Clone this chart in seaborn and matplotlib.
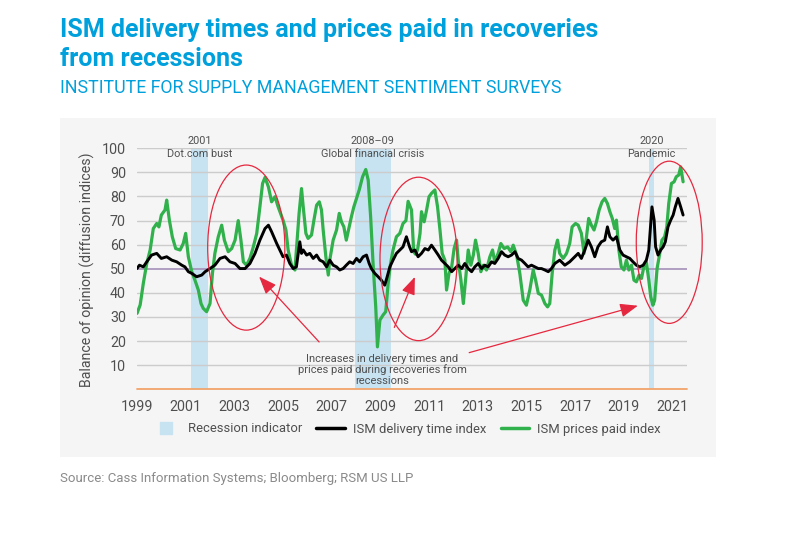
import numpy as np
import pandas as pd
import matplotlib
matplotlib.use("Agg")
import matplotlib.pyplot as plt
from matplotlib.patches import Ellipse, Rectangle
from matplotlib.lines import Line2D
import seaborn as sns

# --- data (decimal years, index values) ---
prices_year = [1999.0, 1999.13, 1999.26, 1999.4, 1999.54, 1999.67, 1999.81, 1999.9, 2000.0, 2000.15,
               2000.22, 2000.33, 2000.45, 2000.59, 2000.77, 2000.9, 2001.0, 2001.11, 2001.25, 2001.38,
               2001.52, 2001.63, 2001.72, 2001.86, 2002.0, 2002.1, 2002.2, 2002.34, 2002.48, 2002.59,
               2002.75, 2002.89, 2003.03, 2003.16, 2003.27, 2003.37, 2003.5, 2003.64, 2003.78, 2003.92,
               2004.05, 2004.16, 2004.26, 2004.4, 2004.53, 2004.67, 2004.8, 2005.0, 2005.12, 2005.21,
               2005.35, 2005.49, 2005.55, 2005.66, 2005.76, 2005.83, 2005.94, 2006.03, 2006.17, 2006.27,
               2006.38, 2006.49, 2006.58, 2006.65, 2006.76, 2006.86, 2006.92, 2007.06, 2007.2, 2007.31,
               2007.4, 2007.5, 2007.6, 2007.72, 2007.81, 2007.91, 2008.02, 2008.13, 2008.27, 2008.4,
               2008.5, 2008.6, 2008.7, 2008.81, 2008.88, 2008.98, 2009.11, 2009.22, 2009.32, 2009.42,
               2009.52, 2009.66, 2009.8, 2009.93, 2010.05, 2010.14, 2010.28, 2010.37, 2010.45, 2010.53,
               2010.63, 2010.69, 2010.8, 2010.9, 2011.0, 2011.1, 2011.24, 2011.35, 2011.45, 2011.54,
               2011.65, 2011.72, 2011.82, 2011.93, 2012.03, 2012.13, 2012.2, 2012.31, 2012.41, 2012.5,
               2012.61, 2012.72, 2012.82, 2012.91, 2013.02, 2013.13, 2013.23, 2013.36, 2013.5, 2013.61,
               2013.7, 2013.84, 2013.95, 2014.09, 2014.23, 2014.36, 2014.46, 2014.6, 2014.73, 2014.87,
               2015.0, 2015.14, 2015.28, 2015.38, 2015.49, 2015.62, 2015.76, 2015.87, 2015.96, 2016.06,
               2016.17, 2016.28, 2016.37, 2016.51, 2016.65, 2016.78, 2016.88, 2017.02, 2017.13, 2017.26,
               2017.37, 2017.47, 2017.56, 2017.67, 2017.78, 2017.88, 2017.99, 2018.11, 2018.22, 2018.33,
               2018.43, 2018.53, 2018.63, 2018.7, 2018.8, 2018.9, 2019.01, 2019.11, 2019.21, 2019.32,
               2019.42, 2019.52, 2019.63, 2019.73, 2019.84, 2019.93, 2020.03, 2020.11, 2020.2, 2020.27,
               2020.37, 2020.48, 2020.57, 2020.68, 2020.77, 2020.85, 2020.96, 2021.07, 2021.16, 2021.26,
               2021.34, 2021.44]
prices_paid = [31.5, 35, 44, 52.2, 57.8, 66.7, 68.8, 67.4, 72.3, 74.4,
               78.5, 70.2, 63.3, 58.4, 57.8, 60.5, 64.7, 55, 48.8, 45.3,
               41.2, 35.6, 33.6, 32.2, 35.6, 48.1, 56.4, 63.3, 68.1, 61.9,
               57.1, 58.4, 61.9, 70, 61.9, 52.9, 51.5, 54.3, 59.1, 64.7,
               75.7, 85.4, 87.9, 84, 77.8, 79.9, 75.7, 70.2, 66.1, 57.8,
               51.5, 49.5, 57.8, 73, 83.3, 75.7, 64.7, 62.6, 64, 70.2,
               76.4, 77.8, 74.4, 66.1, 55, 47.4, 53.6, 61.9, 66.1, 73,
               69.5, 67.4, 61.9, 67.4, 71.6, 75.7, 79.2, 82.7, 88.2, 91.2,
               86.8, 71.6, 52.2, 34.2, 17.6, 28.7, 30.8, 32.2, 43.9, 52.2,
               57.8, 63.3, 64.7, 68.8, 70, 78, 74.4, 57, 56, 58,
               64.7, 73.7, 69.5, 74.4, 79.9, 81.3, 82.7, 75.7, 66.1, 56.4,
               53.6, 41.2, 48.1, 50.8, 58.4, 61.9, 53.6, 45.3, 35.6, 45.3,
               57.8, 51.5, 55.7, 61.9, 56.4, 48.8, 51.5, 49.5, 55, 57.8,
               52.9, 56.4, 60.5, 58.4, 59.1, 57.1, 59.8, 55.7, 48.1, 37,
               34.9, 41.2, 49.5, 45.3, 39.8, 39.1, 35.6, 34.2, 35.6, 48.1,
               57.8, 61.9, 56.4, 54.3, 56.4, 60.5, 67.4, 68.8, 68.1, 64.7,
               56.4, 63.3, 70.9, 68.1, 66.1, 69.5, 74.4, 77.8, 79.2, 77.1,
               73.7, 70.9, 66.7, 70.2, 57.8, 50.8, 49.5, 53.6, 49.5, 51.5,
               45.3, 44.6, 47.4, 46, 51.5, 52.9, 45.3, 38.4, 34.9, 37,
               50.1, 56.4, 61.9, 63.3, 67.4, 77.1, 85.4, 86.1, 88.2, 88.9,
               92.3, 86.1]

delivery_year = [1999.0, 1999.1, 1999.26, 1999.4, 1999.6, 1999.81, 2000.0, 2000.22, 2000.43, 2000.63,
                 2000.84, 2000.97, 2001.11, 2001.25, 2001.45, 2001.66, 2001.8, 2002.0, 2002.2, 2002.41,
                 2002.62, 2002.82, 2003.03, 2003.23, 2003.44, 2003.64, 2003.85, 2004.05, 2004.26, 2004.4,
                 2004.53, 2004.74, 2004.87, 2005.0, 2005.14, 2005.28, 2005.42, 2005.55, 2005.69, 2005.76,
                 2005.83, 2005.97, 2006.1, 2006.24, 2006.38, 2006.51, 2006.65, 2006.79, 2006.92, 2007.06,
                 2007.2, 2007.33, 2007.47, 2007.6, 2007.74, 2007.88, 2008.02, 2008.15, 2008.29, 2008.43,
                 2008.54, 2008.63, 2008.77, 2008.91, 2009.04, 2009.18, 2009.28, 2009.39, 2009.52, 2009.66,
                 2009.8, 2009.93, 2010.07, 2010.2, 2010.28, 2010.42, 2010.55, 2010.69, 2010.83, 2010.97,
                 2011.1, 2011.24, 2011.38, 2011.51, 2011.65, 2011.79, 2011.93, 2012.06, 2012.2, 2012.34,
                 2012.47, 2012.61, 2012.75, 2012.88, 2013.02, 2013.16, 2013.29, 2013.43, 2013.57, 2013.7,
                 2013.84, 2013.98, 2014.11, 2014.25, 2014.39, 2014.53, 2014.66, 2014.8, 2014.94, 2015.07,
                 2015.21, 2015.35, 2015.49, 2015.62, 2015.76, 2015.9, 2016.03, 2016.17, 2016.37, 2016.58,
                 2016.78, 2016.99, 2017.13, 2017.26, 2017.4, 2017.54, 2017.67, 2017.81, 2017.94, 2018.08,
                 2018.22, 2018.33, 2018.43, 2018.56, 2018.7, 2018.84, 2018.97, 2019.11, 2019.25, 2019.38,
                 2019.52, 2019.66, 2019.8, 2019.93, 2020.03, 2020.11, 2020.16, 2020.25, 2020.31, 2020.41,
                 2020.52, 2020.62, 2020.71, 2020.82, 2020.93, 2021.03, 2021.12, 2021.23, 2021.34, 2021.44]
delivery_time = [50.1, 51.5, 50.8, 52.9, 55.7, 56.4, 54.3, 55, 53.6, 52.9,
                 51.5, 50.8, 48.8, 48.1, 46.7, 47.4, 48.8, 50.1, 51.5, 54.3,
                 55, 52.9, 52.2, 50.1, 50.1, 52.2, 56.4, 61.9, 66.7, 68.1,
                 65.4, 60.5, 57.8, 55, 55.7, 52.2, 50.1, 50.8, 61.2, 56.4,
                 57.8, 55.7, 56.4, 54.3, 55.7, 53.6, 52.9, 50.8, 53.6, 51.5,
                 50.8, 49.5, 50.1, 51.5, 52.9, 52.2, 54.3, 52.9, 55, 55.7,
                 52.2, 50.1, 48.1, 46.7, 45.3, 43.2, 46.7, 50.8, 53.6, 56.4,
                 57.8, 59.1, 63.3, 59.1, 57.1, 57.8, 55, 56.4, 58.4, 57.8,
                 59.8, 57.8, 55.7, 53.6, 52.2, 50.8, 48.8, 50.1, 51.5, 50.1,
                 52.2, 50.1, 48.8, 50.8, 52.2, 50.1, 51.5, 50.8, 52.9, 52.2,
                 54.3, 57.1, 55.7, 55, 55.7, 57.1, 54.3, 53.6, 52.2, 50.8,
                 51.5, 50.8, 50.1, 50.1, 49.5, 48.8, 50.1, 52.2, 53.6, 51.5,
                 52.9, 55, 56.4, 54.3, 57.8, 61.9, 59.1, 55, 59.1, 61.2,
                 61.9, 67.4, 63.3, 61.9, 63.3, 57.8, 55.7, 55, 54.3, 52.9,
                 51.5, 50.8, 51.5, 53.6, 57.8, 68.8, 75.7, 70.2, 59.1, 55.7,
                 57.8, 59.1, 61.2, 67.4, 70.2, 72.3, 75.7, 79.2, 75.7, 72.3]

recession_start = [2001.22, 2007.95, 2020.03]
recession_end = [2001.92, 2009.42, 2020.24]
recession_year_labels = ["2001", "2008\u201309", "2020"]
recession_names = ["Dot.com bust", "Global financial crisis", "Pandemic"]

x_ticks = list(range(1999, 2022, 2))
y_ticks = list(range(10, 101, 10))

sns.set_theme(style="white")
plt.rcParams["font.family"] = ["Roboto", "DejaVu Sans"]

BLUE = "#00a0dc"
GREY_TXT = "#4f4f4f"
GREEN = "#30b14c"
BAND = "#c7e3f2"
RED = "#e5283f"

fig = plt.figure(figsize=(7.86, 5.5), dpi=100)
fig.patch.set_facecolor("white")

# grey panel behind chart
fig.patches.append(Rectangle((60 / 786, 1 - 457 / 550), 656 / 786, 339 / 550,
                             transform=fig.transFigure, facecolor="#f5f5f5",
                             edgecolor="none", zorder=-10))

ax = fig.add_axes([137 / 786, 1 - 389.3 / 550, 550 / 786, 241 / 550])
ax.set_facecolor("none")

for s, e in zip(recession_start, recession_end):
    ax.axvspan(s, e, ymin=0, ymax=1, color=BAND, lw=0, zorder=0)

for y in y_ticks:
    if y != 50:
        ax.axhline(y, color="#cccccc", lw=1.0, zorder=1)
ax.axhline(50, color="#a58fb8", lw=1.2, zorder=1)
ax.axhline(0, color="#f2a36a", lw=1.3, zorder=1, clip_on=False)

prices_df = pd.DataFrame({"year": prices_year, "value": prices_paid})
delivery_df = pd.DataFrame({"year": delivery_year, "value": delivery_time})
sns.lineplot(data=prices_df, x="year", y="value", color=GREEN, lw=2.3,
             estimator=None, sort=False, ax=ax, zorder=3)
sns.lineplot(data=delivery_df, x="year", y="value", color="black", lw=2.1,
             estimator=None, sort=False, ax=ax, zorder=4)

ax.set_xlim(1999.0, 2021.6)
ax.set_ylim(0, 100)
ax.set_xticks(x_ticks)
ax.set_yticks(y_ticks)
ax.tick_params(axis="both", length=0, colors=GREY_TXT, labelsize=10.3)
ax.tick_params(axis="x", pad=8)
ax.tick_params(axis="y", pad=8)
for sp in ax.spines.values():
    sp.set_visible(False)
ax.set_xlabel("")
ax.set_ylabel("Balance of opinion (diffusion indices)", color=GREY_TXT, fontsize=10.2)
ax.yaxis.set_label_coords(-0.076, 0.495)

# recession labels above the bands
label_x = [2001.57, 2008.69, 2020.14]
for lx, yl, nm in zip(label_x, recession_year_labels, recession_names):
    ax.text(lx, 103, yl, ha="center", va="center", fontsize=7.8, color=GREY_TXT, clip_on=False)
    ax.text(lx, 97.6, nm, ha="center", va="center", fontsize=7.8, color=GREY_TXT, clip_on=False)

# red ellipses round the recoveries
for cx, cy, w, h in [(2003.49, 58.8, 3.17, 68.5), (2010.57, 54.1, 3.17, 67.8), (2020.87, 61.0, 2.71, 67.3)]:
    ax.add_patch(Ellipse((cx, cy), w, h, fill=False, edgecolor=RED, lw=0.9, zorder=5, clip_on=False))

ax.text(2009.07, 8.0, "Increases in delivery times and\nprices paid during recoveries from\nrecessions",
        ha="center", va="center", fontsize=8.0, color=GREY_TXT, linespacing=1.05, zorder=6)
for (tx, ty), (hx, hy) in [((2006.56, 18.8), (2003.94, 47.6)),
                           ((2009.53, 24.6), (2010.46, 47.7)),
                           ((2012.54, 14.9), (2019.69, 35.0))]:
    ax.annotate("", xy=(hx, hy), xytext=(tx, ty),
                arrowprops=dict(arrowstyle="-|>,head_length=0.9,head_width=0.35", color=RED, lw=0.9),
                zorder=6)

# legend
handles = [Line2D([], [], marker="s", ls="none", markersize=9, color=BAND),
           Line2D([], [], color="black", lw=2.5),
           Line2D([], [], color=GREEN, lw=2.5)]
labels = ["Recession indicator", "ISM delivery time index", "ISM prices paid index"]
leg = fig.legend(handles, labels, loc="center", bbox_to_anchor=(406 / 786, 1 - 429 / 550),
                 ncol=3, frameon=False, fontsize=9.4, handlelength=2.2,
                 handletextpad=0.6, columnspacing=1.1)
for t in leg.get_texts():
    t.set_color(GREY_TXT)

# titles and source
fig.text(60 / 786, 1 - 37 / 550, "ISM delivery times and prices paid in recoveries",
         ha="left", va="baseline", fontsize=18, fontweight="bold", color=BLUE)
fig.text(60 / 786, 1 - 66 / 550, "from recessions",
         ha="left", va="baseline", fontsize=18, fontweight="bold", color=BLUE)
fig.text(60 / 786, 1 - 93 / 550, "INSTITUTE FOR SUPPLY MANAGEMENT SENTIMENT SURVEYS",
         ha="left", va="baseline", fontsize=12.75, color=BLUE)
fig.text(60 / 786, 1 - 482 / 550, "Source: Cass Information Systems; Bloomberg; RSM US LLP",
         ha="left", va="baseline", fontsize=9.5, color="#8a8a8a")

fig.savefig("out.png", dpi=100, facecolor="white")
